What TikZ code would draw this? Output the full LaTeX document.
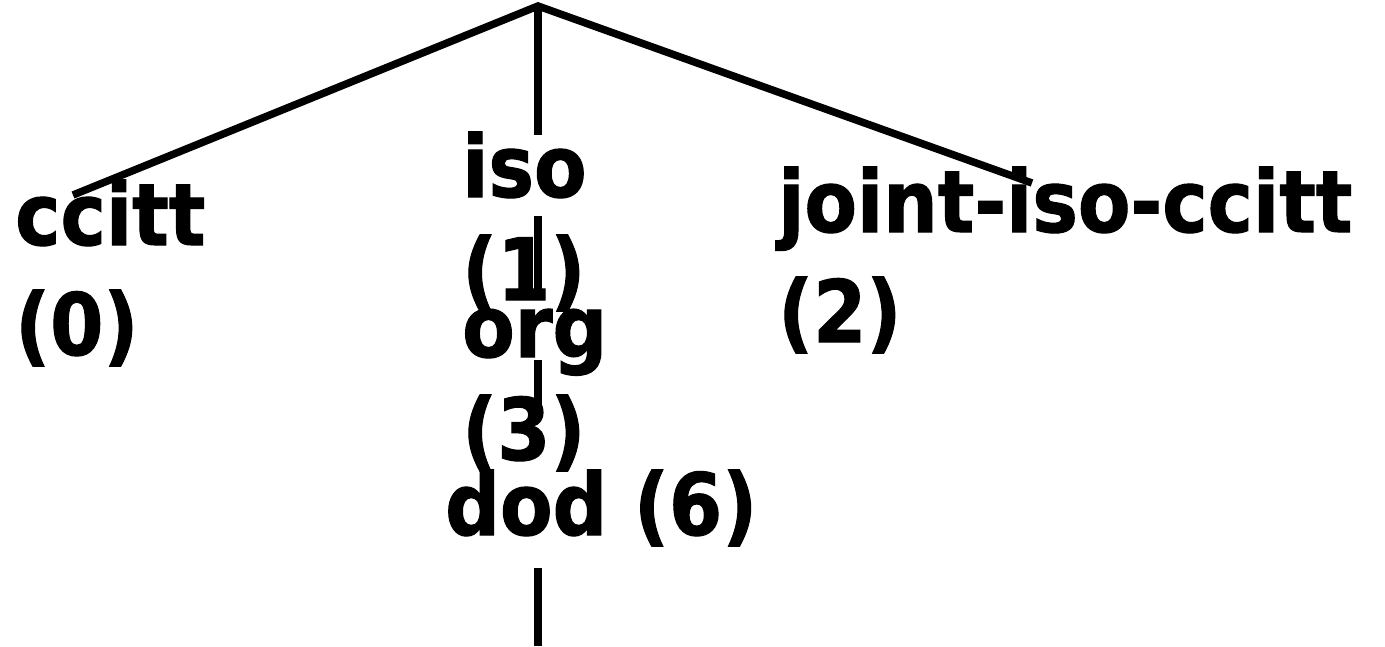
\documentclass[tikz,border=0pt]{standalone}
\usepackage{fontspec}
\setmainfont{DejaVu Sans}[BoldFeatures={FakeStretch=0.89,FakeBold=1.2}]
\begin{document}
\begin{tikzpicture}[x=1pt,y=-1pt,
  lbl/.style={anchor=base west,inner sep=0pt,font=\fontsize{86}{100}\selectfont\bfseries},
  edge/.style={line width=7.5pt}]
\useasboundingbox (0,0) rectangle (1385,646);
% tree labels, one node per printed line
\node[lbl] (ccitt)  at (15,245) {ccitt};
\node[lbl] (ccittn) at (15,355) {(0)};
\node[lbl] (iso)    at (462,197) {iso};
\node[lbl] (ison)   at (462,300) {(1)};
\node[lbl] (org)    at (462,357) {org};
\node[lbl] (orgn)   at (462,460) {(3)};
\node[lbl] (dod)    at (445,535) {dod (6)};
\node[lbl] (joint)  at (778,232) {joint-iso-ccitt};
\node[lbl] (jointn) at (778,342) {(2)};
% connector end points
\coordinate (root)  at (538,6);
\coordinate (lend)  at (73,195);
\coordinate (rend)  at (1032,183);
\coordinate (v1)    at (538,135);
\coordinate (v2a)   at (538,216);
\coordinate (v2b)   at (538,300);
\coordinate (v3a)   at (538,360);
\coordinate (v3b)   at (538,405);
\coordinate (v4a)   at (538,568);
\coordinate (v4b)   at (538,646);
\draw[edge,line join=miter] (lend) -- (root) -- (rend);
\draw[edge] (root) -- (v1);
\draw[edge] (v2a) -- (v2b);
\draw[edge] (v3a) -- (v3b);
\draw[edge] (v4a) -- (v4b);
\end{tikzpicture}
\end{document}
